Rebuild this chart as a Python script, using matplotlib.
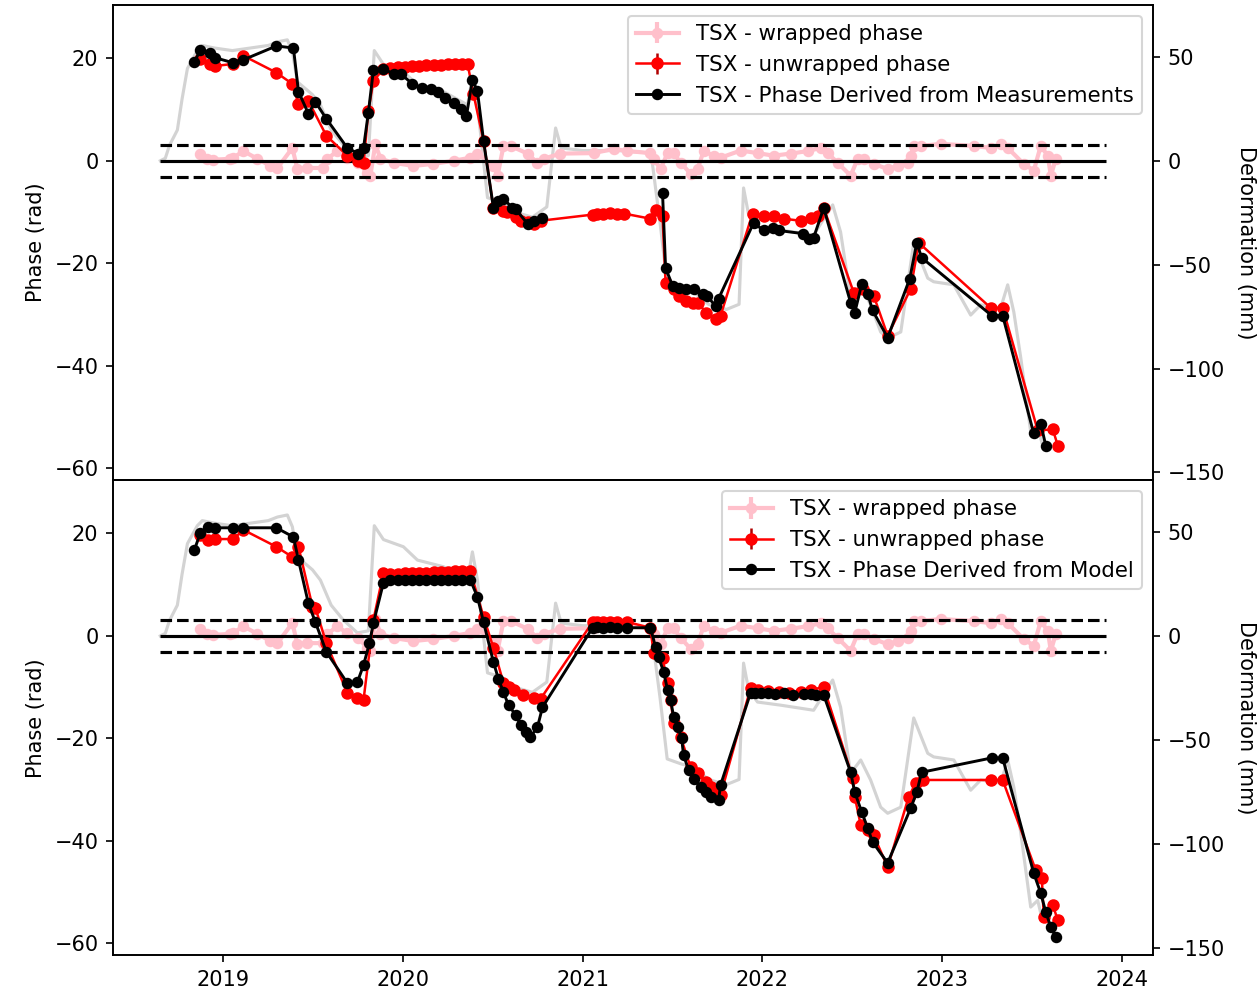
import matplotlib
matplotlib.use('Agg')
import matplotlib.pyplot as plt
import matplotlib.dates as mdates
import numpy as np
import pandas as pd

# TSX wavelength -> phase/deformation conversion (rad per mm)
WAVELENGTH_MM = 31.0
RAD_PER_MM = 4 * np.pi / WAVELENGTH_MM

# dates are given as decimal years, values in rad

# background deformation curve (grey), expressed in phase units
grey_t = [2018.649, 2018.677, 2018.700, 2018.744, 2018.770, 2018.800, 2018.855, 2018.883,
          2018.950, 2019.050, 2019.150, 2019.250, 2019.301, 2019.356, 2019.384, 2019.412,
          2019.496, 2019.540, 2019.600, 2019.668, 2019.746, 2019.807, 2019.840, 2019.891,
          2020.002, 2020.080, 2020.225, 2020.359, 2020.386, 2020.414, 2020.470, 2020.542,
          2020.620, 2020.720, 2020.800, 2020.849, 2020.880, 2021.000, 2021.200, 2021.380,
          2021.430, 2021.470, 2021.550, 2021.617, 2021.700, 2021.800, 2021.870, 2021.895,
          2021.923, 2021.973, 2022.100, 2022.285, 2022.391, 2022.435, 2022.491, 2022.547,
          2022.602, 2022.658, 2022.697, 2022.770, 2022.842, 2022.920, 2022.953, 2023.065,
          2023.159, 2023.215, 2023.326, 2023.365, 2023.399, 2023.438, 2023.493, 2023.532,
          2023.555]
grey_phase = [0.0, 0.5, 3.0, 6.0, 12.0, 18.0, 21.5, 22.5,
              22.0, 21.5, 22.0, 22.5, 23.2, 23.6, 21.3, 15.4,
              12.9, 10.9, 6.0, 3.1, 0.6, 1.0, 21.5, 18.8,
              17.4, 14.8, 13.5, 10.9, 16.4, 10.9, -7.2, -8.0,
              -10.0, -11.0, -9.0, 6.4, 2.5, 2.0, 2.0, 1.5,
              -12.0, -24.0, -25.0, -25.6, -28.0, -29.0, -28.0, -5.3,
              -10.5, -12.9, -13.5, -14.5, -8.6, -13.9, -26.8, -24.2,
              -28.1, -33.4, -34.6, -33.4, -16.0, -22.9, -23.6, -24.2,
              -30.1, -28.1, -28.7, -24.2, -29.5, -38.5, -52.9, -51.6,
              -55.0]

# wrapped phase (pink), same in both panels
wrap_t = [2018.872, 2018.911, 2018.944, 2019.039, 2019.056, 2019.111, 2019.189, 2019.262,
          2019.301, 2019.384, 2019.412, 2019.468, 2019.557, 2019.579, 2019.635, 2019.690,
          2019.752, 2019.802, 2019.818, 2019.846, 2019.874, 2019.947, 2020.058, 2020.169,
          2020.281, 2020.375, 2020.414, 2020.503, 2020.526, 2020.559, 2020.598, 2020.693,
          2020.748, 2020.782, 2020.876, 2021.060, 2021.172, 2021.249, 2021.377, 2021.394,
          2021.433, 2021.472, 2021.506, 2021.545, 2021.600, 2021.639, 2021.673, 2021.728,
          2021.767, 2021.879, 2021.973, 2022.062, 2022.157, 2022.252, 2022.324, 2022.363,
          2022.419, 2022.491, 2022.530, 2022.564, 2022.619, 2022.697, 2022.753, 2022.808,
          2022.825, 2022.842, 2022.881, 2022.992, 2023.176, 2023.271, 2023.326, 2023.365,
          2023.454, 2023.510, 2023.549, 2023.588, 2023.605, 2023.633]
wrap_phase = [1.4, 0.4, 0.2, 0.4, 0.6, 1.9, 0.4, -1.0,
              -1.4, 2.5, -1.6, -1.4, -1.4, 0.4, 1.9, 0.5,
              -0.5, -2.3, -2.9, 3.3, 0.4, -0.4, -1.0, -0.6,
              0.0, 0.6, 1.4, -1.0, -2.9, 2.9, 2.9, 1.4,
              -0.4, 0.4, 1.4, 1.5, 2.3, 1.9, 1.5, 0.4,
              -1.6, 1.5, 1.5, -0.4, -2.5, -1.6, 1.9, 1.0,
              0.6, 2.0, 1.5, 1.0, 1.4, 1.9, 2.5, 1.5,
              -0.4, -2.9, 0.4, 0.4, -0.6, -1.6, -1.0, -0.4,
              1.0, 2.9, 2.9, 3.3, 2.9, 2.5, 3.3, 2.5,
              -0.6, -1.9, 2.9, 1.0, -2.9, 0.4]

# top panel: unwrapped (red) and phase derived from measurements (black)
unw1_t = [2018.872, 2018.928, 2018.955, 2019.056, 2019.111, 2019.295, 2019.384, 2019.418,
          2019.473, 2019.573, 2019.690, 2019.752, 2019.780, 2019.807, 2019.835, 2019.891,
          2019.930, 2019.970, 2020.010, 2020.050, 2020.090, 2020.130, 2020.170, 2020.210,
          2020.250, 2020.290, 2020.330, 2020.359, 2020.392, 2020.448, 2020.503, 2020.559,
          2020.581, 2020.626, 2020.654, 2020.693, 2020.726, 2020.765, 2021.055, 2021.080,
          2021.110, 2021.150, 2021.190, 2021.230, 2021.377, 2021.405, 2021.444, 2021.461,
          2021.506, 2021.533, 2021.572, 2021.611, 2021.644, 2021.684, 2021.739, 2021.767,
          2021.945, 2022.007, 2022.062, 2022.118, 2022.213, 2022.268, 2022.307, 2022.341,
          2022.508, 2022.558, 2022.619, 2022.697, 2022.825, 2022.870, 2023.271, 2023.337,
          2023.532, 2023.616, 2023.644]
unw1_phase = [19.9, 18.9, 18.5, 18.9, 20.5, 17.2, 15.0, 11.1,
              11.7, 4.9, 1.0, 0.0, -0.5, 9.7, 15.6, 17.9,
              18.1, 18.2, 18.3, 18.4, 18.5, 18.6, 18.6, 18.7,
              18.8, 18.9, 18.9, 18.9, 13.0, 3.9, -9.2, -9.7,
              -10.0, -11.0, -11.7, -12.0, -12.3, -11.7, -10.5, -10.3,
              -10.4, -10.2, -10.3, -10.3, -11.3, -9.6, -10.7, -23.8,
              -25.0, -26.3, -27.3, -27.7, -27.7, -29.6, -30.8, -30.2,
              -10.3, -10.7, -10.7, -11.3, -11.7, -11.1, -10.7, -9.2,
              -25.7, -25.0, -26.3, -34.1, -25.0, -16.0, -28.7, -28.7,
              -52.6, -52.4, -55.6]

meas_t = [2018.839, 2018.872, 2018.928, 2018.955, 2019.056, 2019.111, 2019.295, 2019.390,
          2019.418, 2019.473, 2019.512, 2019.573, 2019.690, 2019.752, 2019.780, 2019.807,
          2019.835, 2019.891, 2019.947, 2019.986, 2020.052, 2020.108, 2020.153, 2020.197,
          2020.236, 2020.281, 2020.320, 2020.353, 2020.386, 2020.414, 2020.448, 2020.503,
          2020.531, 2020.559, 2020.609, 2020.626, 2020.693, 2020.726, 2020.771, 2021.000,
          2021.444, 2021.461, 2021.500, 2021.533, 2021.572, 2021.617, 2021.667, 2021.689,
          2021.739, 2021.756, 2021.951, 2022.007, 2022.057, 2022.090, 2022.224, 2022.257,
          2022.285, 2022.341, 2022.491, 2022.514, 2022.553, 2022.586, 2022.613, 2022.697,
          2022.820, 2022.859, 2022.886, 2023.276, 2023.337, 2023.510, 2023.549, 2023.577]
meas_phase = [19.3, 21.6, 21.0, 20.1, 19.1, 19.7, 22.4, 22.0,
              13.5, 9.2, 11.5, 8.2, 2.5, 1.4, 2.5, 9.4,
              17.7, 17.9, 17.0, 17.0, 15.0, 14.2, 14.0, 13.5,
              12.3, 11.3, 10.1, 8.8, 15.8, 13.6, 3.9, -9.2,
              -7.8, -7.4, -9.2, -9.4, -12.3, -11.7, -11.1, np.nan,
              -6.2, -20.9, -24.4, -24.8, -25.0, -25.0, -25.9, -26.3,
              -28.3, -26.9, -12.1, -13.6, -13.1, -13.6, -14.2, -15.2,
              -15.0, -9.2, -27.7, -29.6, -24.0, -25.9, -29.2, -34.5,
              -23.0, -16.0, -18.9, -30.2, -30.2, -53.2, -51.3, -55.6]

# bottom panel: unwrapped (red) and phase derived from model (black)
unw2_t = [2018.872, 2018.916, 2018.955, 2019.056, 2019.111, 2019.295, 2019.384, 2019.418,
          2019.496, 2019.512, 2019.573, 2019.690, 2019.746, 2019.780, 2019.835, 2019.891,
          2019.930, 2019.970, 2020.010, 2020.050, 2020.090, 2020.130, 2020.170, 2020.210,
          2020.250, 2020.290, 2020.330, 2020.375, 2020.448, 2020.503, 2020.559, 2020.587,
          2020.615, 2020.670, 2020.726, 2020.765, 2021.055, 2021.080, 2021.110, 2021.150,
          2021.190, 2021.249, 2021.377, 2021.394, 2021.444, 2021.472, 2021.489, 2021.506,
          2021.545, 2021.600, 2021.644, 2021.684, 2021.712, 2021.739, 2021.767, 2021.934,
          2021.973, 2022.030, 2022.090, 2022.150, 2022.213, 2022.268, 2022.341, 2022.503,
          2022.514, 2022.547, 2022.586, 2022.619, 2022.697, 2022.814, 2022.853, 2022.892,
          2023.271, 2023.337, 2023.521, 2023.555, 2023.566, 2023.616, 2023.644]
unw2_phase = [19.7, 18.8, 18.9, 18.9, 20.7, 17.4, 15.4, 17.4,
              5.7, 5.5, -1.4, -11.1, -12.1, -12.5, 3.1, 12.3,
              12.0, 12.1, 12.2, 12.2, 12.3, 12.3, 12.4, 12.5,
              12.5, 12.6, 12.6, 12.6, 3.7, -2.3, -9.2, -10.0,
              -10.5, -11.5, -12.1, -12.3, 2.7, 2.8, 2.7, 2.8,
              2.7, 2.7, 1.6, -3.3, -4.3, -9.2, -12.5, -17.0,
              -19.7, -25.6, -26.8, -28.5, -29.5, -30.0, -31.0, -10.2,
              -10.5, -10.8, -11.0, -11.1, -11.0, -10.5, -10.0, -27.7,
              -31.4, -36.9, -37.9, -38.9, -45.1, -31.4, -28.7, -28.1,
              -28.1, -28.1, -45.7, -47.3, -54.9, -52.5, -55.5]

model_t = [2018.839, 2018.872, 2018.916, 2018.955, 2019.056, 2019.111, 2019.295, 2019.390,
           2019.418, 2019.473, 2019.512, 2019.573, 2019.690, 2019.746, 2019.780, 2019.813,
           2019.835, 2019.891, 2019.930, 2019.970, 2020.010, 2020.050, 2020.090, 2020.130,
           2020.170, 2020.210, 2020.250, 2020.290, 2020.330, 2020.375, 2020.414, 2020.448,
           2020.503, 2020.531, 2020.559, 2020.587, 2020.626, 2020.654, 2020.687, 2020.709,
           2020.748, 2020.776, 2021.055, 2021.080, 2021.110, 2021.150, 2021.190, 2021.249,
           2021.377, 2021.405, 2021.422, 2021.450, 2021.472, 2021.489, 2021.506, 2021.528,
           2021.550, 2021.561, 2021.589, 2021.620, 2021.656, 2021.684, 2021.712, 2021.756,
           2021.767, 2021.934, 2021.960, 2021.990, 2022.030, 2022.070, 2022.120, 2022.170,
           2022.230, 2022.268, 2022.300, 2022.341, 2022.491, 2022.514, 2022.553, 2022.586,
           2022.613, 2022.697, 2022.825, 2022.859, 2022.886, 2023.276, 2023.337, 2023.510,
           2023.549, 2023.577, 2023.605, 2023.633]
model_phase = [16.8, 20.1, 21.3, 21.1, 21.1, 21.1, 21.1, 19.3,
               14.8, 6.4, 2.7, -3.1, -9.2, -9.0, -5.7, -1.4,
               2.5, 10.4, 10.9, 10.9, 10.9, 10.9, 10.9, 10.9,
               10.9, 10.9, 10.9, 10.9, 10.9, 10.9, 7.6, 2.7,
               -5.1, -8.4, -11.0, -13.5, -15.4, -17.4, -18.8, -19.7,
               -17.8, -13.9, 1.6, 1.7, 1.6, 1.7, 1.6, 1.6,
               1.6, -2.1, -4.1, -7.0, -10.5, -12.5, -15.8, -17.8,
               -19.9, -23.2, -26.2, -28.0, -29.5, -30.5, -31.4, -32.0,
               -29.1, -11.1, -11.1, -11.2, -11.1, -11.3, -11.2, -11.5,
               -11.4, -11.3, -11.5, -11.5, -26.6, -30.5, -34.4, -37.5,
               -40.2, -44.3, -33.6, -30.5, -26.6, -23.8, -23.8, -46.3,
               -50.2, -53.9, -56.8, -58.8]

phase_err = 0.3  # rad
ref_start, ref_end = 2018.649, 2023.91
ylim_rad = (-62.3, 30.4)


def to_dates(years):
    years = np.asarray(years, dtype=float)
    return pd.Timestamp('2018-01-01') + pd.to_timedelta((years - 2018.0) * 365.25, unit='D')


def draw_panel(ax, red_t, red_phase, blk_t, blk_phase, blk_label):
    ax.plot(to_dates(grey_t), grey_phase, color='lightgrey', lw=1.5, zorder=1)
    h_wrap = ax.errorbar(to_dates(wrap_t), wrap_phase, yerr=phase_err, fmt='-o',
                         color='pink', ms=4.5, lw=2, label='TSX - wrapped phase', zorder=2)
    x0, x1 = to_dates([ref_start, ref_end])
    ax.hlines(0, x0, x1, colors='k', lw=1.5, zorder=3)
    ax.hlines([np.pi, -np.pi], x0, x1, colors='k', linestyles='--', lw=1.5, zorder=3)
    h_unw = ax.errorbar(to_dates(red_t), red_phase, yerr=phase_err, fmt='-o', color='red',
                        ecolor='#b00000', ms=5, lw=1.2, label='TSX - unwrapped phase',
                        zorder=4)
    h_blk, = ax.plot(to_dates(blk_t), blk_phase, '-o', color='k', ms=4.5, lw=1.4,
                     label=blk_label, zorder=5)
    ax.set_ylim(*ylim_rad)
    ax.set_ylabel('Phase (rad)')
    ax.legend(handles=[h_wrap, h_unw, h_blk], loc='upper right', fontsize=10.25)

    ax2 = ax.twinx()
    ax2.set_ylim(ylim_rad[0] / RAD_PER_MM, ylim_rad[1] / RAD_PER_MM)
    ax2.set_ylabel('Deformation (mm)', rotation=270, labelpad=15)


fig, (ax_top, ax_bot) = plt.subplots(2, 1, sharex=True, figsize=(8.4, 6.62), dpi=150)
fig.subplots_adjust(left=0.0897, right=0.915, top=0.995, bottom=0.038, hspace=0)

draw_panel(ax_top, unw1_t, unw1_phase, meas_t, meas_phase,
           'TSX - Phase Derived from Measurements')
draw_panel(ax_bot, unw2_t, unw2_phase, model_t, model_phase,
           'TSX - Phase Derived from Model')

ax_bot.xaxis.set_major_locator(mdates.YearLocator())
ax_bot.xaxis.set_major_formatter(mdates.DateFormatter('%Y'))

fig.savefig('out.png', dpi=150)
